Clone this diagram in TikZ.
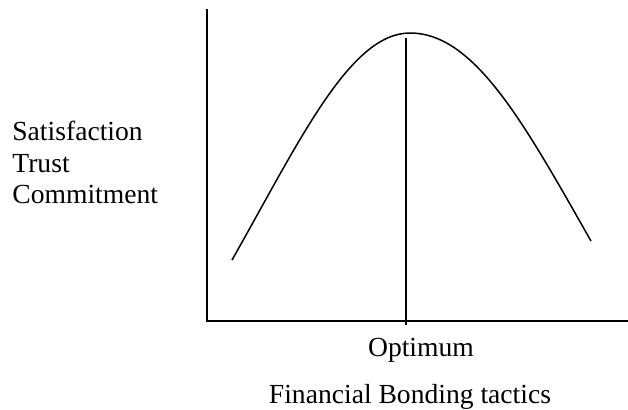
\documentclass[tikz,border=0pt]{standalone}
\usepackage{fontspec}
\setmainfont{Liberation Serif}
\usepackage{tikz}
\usetikzlibrary{positioning}
\usetikzlibrary{calc}

\begin{document}
\begin{tikzpicture}[
    x=0.5pt, y=-0.5pt,
    every node/.style={font=\fontsize{13.8}{17}\selectfont, inner sep=0pt},
    axis/.style={line width=0.75pt},
    label/.style={anchor=base west},
    caption/.style={anchor=base}
]
\useasboundingbox (0,0) rectangle (628,409);
% axes
\coordinate (origin) at (207,321);
\coordinate (ytop) at (207,9);
\coordinate (xend) at (628,321);
\draw[axis] (ytop) -- (origin) -- (xend);
% curve
\coordinate (start) at (232,260);
\coordinate (peak) at (410,33);
\coordinate (stop) at (591,241);
\draw[axis] (start) .. controls (300,140) and (350,33) .. (peak)
    .. controls (475,33) and (525,125) .. (stop);
% optimum line
\coordinate (opttop) at (406,38);
\coordinate (optbot) at (406,325);
\draw[axis] (opttop) -- (optbot);
% labels
\node[label] (sat) at (12,140) {Satisfaction};
\node[label] (trust) at (12,172) {Trust};
\node[label] (comm) at (12,203) {Commitment};
\node[caption] (optimum) at (421,356) {Optimum};
\node[caption] (tactics) at (410,403) {Financial Bonding tactics};
\end{tikzpicture}
\end{document}
